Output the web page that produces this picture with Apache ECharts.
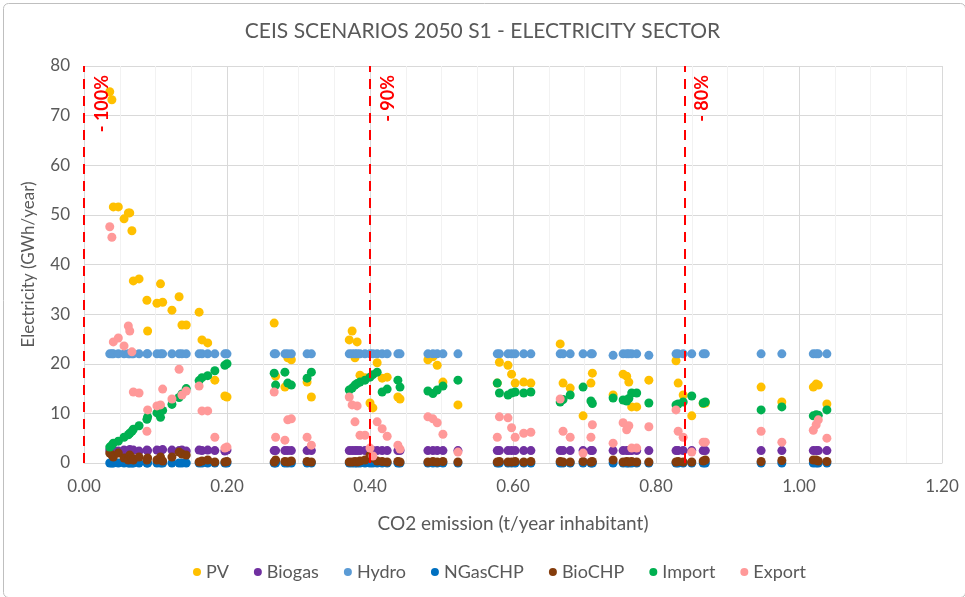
<!DOCTYPE html>
<html>
<head>
<meta charset="utf-8">
<script src="https://cdn.jsdelivr.net/npm/echarts@6/dist/echarts.min.js"></script>
<style>
  html,body{margin:0;padding:0;background:#fff;}
  #chart{width:965px;height:597px;}
</style>
</head>
<body>
<div id="chart"></div>
<script>
// one entry per scenario: CO2 emission and the electricity of each source
const co2 = [
  0.036,0.039,0.041,0.048,0.056,0.062,0.064,0.067,0.069,0.077,0.088,0.089,0.102,0.107,0.110,0.123,0.133,0.137,0.143,0.161,0.165,0.173,0.183,0.197,0.200,
  0.266,0.268,0.281,0.285,0.290,0.312,0.318,
  0.371,0.375,0.379,0.382,0.386,0.393,0.400,0.404,0.410,0.417,0.424,0.439,0.442,
  0.481,0.488,0.494,0.502,0.523,
  0.578,0.581,0.593,0.598,0.603,0.615,0.625,
  0.666,0.670,0.680,0.698,0.709,0.711,
  0.740,0.754,0.759,0.762,0.766,0.773,0.790,
  0.828,0.831,0.838,0.850,0.866,0.869,
  0.947,0.976,
  1.020,1.024,1.027,1.039
];
const pv = [
  74.8,73.2,51.6,51.6,49.2,50.4,50.4,46.8,36.7,37.1,32.8,26.6,32.2,36.1,32.4,30.8,33.5,27.8,27.8,30.4,24.8,24.2,16.7,13.5,13.3,
  28.2,17.5,15.3,21.2,20.8,16.3,13.3,
  24.8,26.6,21.2,24.4,17.7,17.2,12.1,11.1,20.2,17.1,17.3,13.3,12.9,
  20.8,21.4,19.7,16.3,11.7,
  16.1,20.3,19.7,17.9,16.1,16.3,16.1,
  24.0,16.1,15.1,9.5,16.1,18.1,
  13.7,17.9,17.5,16.3,11.3,11.3,16.7,
  20.6,16.1,13.7,9.5,12.0,12.1,
  15.3,12.3,
  15.3,15.9,15.7,11.9
];
const biogas = [
  2.6,2.5,2.6,2.4,2.6,2.5,2.7,2.5,2.6,2.4,2.6,2.5,2.6,2.5,2.7,2.6,2.5,2.6,2.4,2.6,2.5,2.6,2.5,2.4,2.6,
  2.5,2.5,2.5,2.5,2.5,2.5,2.5,
  2.5,2.5,2.5,2.5,2.5,2.5,2.5,2.5,2.5,2.5,2.5,2.5,2.5,
  2.5,2.5,2.5,2.5,2.5,
  2.5,2.5,2.5,2.5,2.5,2.5,2.5,
  2.5,2.5,2.5,2.5,2.5,2.5,
  2.5,2.5,2.5,2.5,2.5,2.5,2.5,
  2.5,2.5,2.5,2.5,2.5,2.5,
  2.5,2.5,
  2.5,2.5,2.5,2.5
];
const hydro = [
  22,22,22,22,22,22,22,22,22,22,22,22,22,22,22,22,22,22,22,22,22,22,22,22,22,
  22,22,22,22,22,22,22,
  22,22,22,22,22,22,22,22,22,22,22,22,22,
  22,22,22,22,22,
  22,22,22,22,22,22,22,
  22,22,22,22,22,22,
  21.7,22,22,22,22,22,21.7,
  22,22,22,22,22,22,
  22,22,
  22,22,22,22
];
const ngas = [
  0,0,0,0,0,0,0,0,0,0,0,0,0,0,0,0,0,0,0,0,0,0,0,0,0,
  0,0,0,0,0,0,0,
  0,0,0,0,0,0,0,0,0,0,0,0,0,
  0,0,0,0,0,
  0,0,0,0,0,0,0,
  0,0,0,0,0,0,
  0,0,0,0,0,0,0,
  0,0,0,0,0,0,
  0,0,
  0,0,0,0
];
const biochp = [
  2.0,1.6,1.2,2.0,1.0,0.6,1.6,1.0,0.6,1.2,0.6,1.0,0.6,1.2,0.4,1.2,2.2,1.8,1.6,0.2,0.4,0.6,0.2,0.2,0.3,
  0.2,0.6,0.3,0.2,0.4,0.3,0.2,
  0.2,0.2,0.3,0.2,0.4,0.6,1.6,1.0,0.4,0.3,0.2,0.3,0.2,
  0.2,0.3,0.2,0.3,0.2,
  0.2,0.3,0.2,0.2,0.3,0.2,0.3,
  0.3,0.2,0.2,0.3,0.2,0.3,
  0.6,0.2,0.3,0.2,0.3,0.2,0.2,
  0.2,0.3,0.2,0.2,0.4,0.6,
  0.3,0.5,
  0.6,0.6,0.4,0.3
];
const imp = [
  3.2,3.6,4.0,4.4,5.2,5.7,6.0,6.4,6.8,7.5,8.8,9.3,10.1,9.2,10.6,11.8,13.2,13.9,15.0,16.6,17.2,17.6,18.6,19.7,20.0,
  18.1,15.7,18.3,16.1,15.7,17.1,18.3,
  14.7,15.1,15.7,16.0,16.3,16.7,17.3,17.8,18.3,14.3,14.9,16.7,15.3,
  14.5,14.0,14.7,15.5,16.7,
  16.1,14.1,13.7,14.1,14.3,14.1,14.3,
  12.3,12.8,13.7,15.3,12.5,12.0,
  13.1,12.7,12.5,13.0,14.1,14.1,12.1,
  11.7,11.9,12.3,13.5,12.1,12.3,
  10.7,11.3,
  9.5,9.7,9.6,10.7
];
const exp = [
  47.6,45.5,24.4,25.2,23.6,27.6,26.6,22.4,14.3,14.1,6.4,10.7,11.5,11.7,14.9,12.9,18.9,13.7,14.5,15.5,10.5,10.5,5.2,3.0,3.2,
  14.3,5.2,4.6,8.7,8.9,5.2,3.6,
  13.3,11.7,8.3,11.5,5.6,5.6,3.0,1.4,8.3,6.9,5.4,3.6,2.8,
  9.3,8.9,8.1,5.8,2.2,
  5.2,9.3,9.1,7.1,5.2,6.0,6.2,
  12.9,6.4,5.2,2.0,5.2,7.7,
  4.0,8.1,6.7,7.5,3.0,3.0,7.3,
  10.7,6.4,5.2,2.2,4.2,4.2,
  6.4,4.2,
  6.6,7.7,8.7,5.0
];

// reduction targets (dashed lines)
const targetX = [0.002, 0.403, 0.836];
const targetLabels = ['- 100%', '- 90%', '- 80%'];

const seriesNames = ['PV','Biogas','Hydro','NGasCHP','BioCHP','Import','Export'];
const seriesValues = [pv, biogas, hydro, ngas, biochp, imp, exp];
const seriesColors = ['#FFC000','#7030A0','#5B9BD5','#0070C0','#843C0C','#00B050','#FF9999'];

const textGray = '#595959';
const font = 'Lato';

let myChart = echarts.init(document.getElementById('chart'));

let series = seriesNames.map((name, k) => ({
  name: name,
  type: 'scatter',
  symbol: 'circle',
  symbolSize: 9,
  itemStyle: {color: seriesColors[k], opacity: 1},
  data: co2.map((x, i) => [x, seriesValues[k][i]])
}));

series[series.length - 1].markLine = {
  silent: true,
  symbol: ['none','none'],
  lineStyle: {color: '#FF0000', width: 2, type: [10, 7]},
  label: {
    position: 'insideEndBottom',
    color: '#FF0000',
    fontFamily: font,
    fontSize: 18,
    fontWeight: 'bold',
    distance: 9
  },
  data: targetX.map((x, i) => ({xAxis: x, label: {formatter: targetLabels[i]}}))
};

let option = {
  backgroundColor: '#ffffff',
  animation: false,
  textStyle: {fontFamily: font},
  title: {
    text: 'CEIS SCENARIOS 2050 S1 - ELECTRICITY SECTOR',
    left: 'center',
    top: 16,
    textStyle: {fontFamily: font, fontSize: 21, fontWeight: 'normal', color: textGray}
  },
  legend: {
    bottom: 11,
    left: 188,
    icon: 'circle',
    itemWidth: 8,
    itemHeight: 8,
    itemGap: 25,
    textStyle: {fontFamily: font, fontSize: 18, color: textGray},
    data: seriesNames
  },
  grid: {left: 84, right: 23, top: 66, bottom: 134},
  xAxis: {
    type: 'value',
    min: 0,
    max: 1.2,
    interval: 0.2,
    name: 'CO2 emission (t/year inhabitant)',
    nameLocation: 'middle',
    nameGap: 51,
    nameTextStyle: {fontFamily: font, fontSize: 19, color: textGray},
    axisLine: {show: true, lineStyle: {color: '#d9d9d9'}},
    axisTick: {show: false},
    axisLabel: {formatter: v => v.toFixed(2), fontSize: 17, color: textGray, margin: 15},
    splitLine: {show: true, lineStyle: {color: '#d9d9d9'}},
    minorTick: {show: false, splitNumber: 4},
    minorSplitLine: {show: true, lineStyle: {color: '#f2f2f2'}}
  },
  yAxis: {
    type: 'value',
    min: 0,
    max: 80,
    interval: 10,
    name: 'Electricity (GWh/year)',
    nameLocation: 'middle',
    nameGap: 47,
    nameTextStyle: {fontFamily: font, fontSize: 17, color: textGray},
    axisLine: {show: false},
    axisTick: {show: false},
    axisLabel: {fontSize: 17, color: textGray, margin: 14},
    splitLine: {show: true, lineStyle: {color: '#d9d9d9'}}
  },
  graphic: [{
    type: 'rect',
    left: 1, top: 1,
    shape: {width: 962, height: 594, r: 5},
    style: {fill: 'none', stroke: '#bfbfbf', lineWidth: 1},
    silent: true
  }],
  series: series
};

myChart.setOption(option);
</script>
</body>
</html>
